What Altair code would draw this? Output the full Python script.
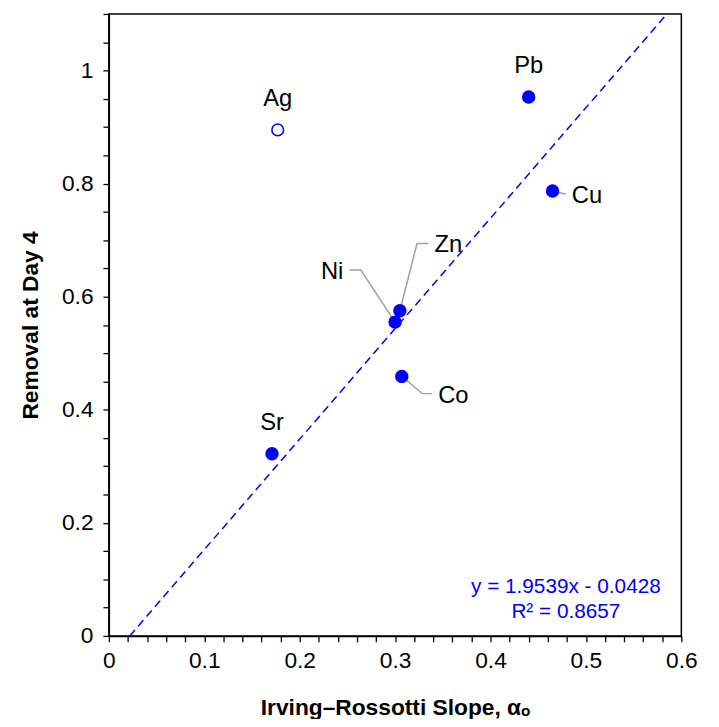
import altair as alt
import pandas as pd

# ---- data ----
names = ["Ag", "Pb", "Cu", "Zn", "Ni", "Co", "Sr"]
slope_alpha = [0.177, 0.440, 0.465, 0.305, 0.300, 0.307, 0.171]
removal_day4 = [0.895, 0.953, 0.787, 0.575, 0.555, 0.459, 0.322]
filled = [False, True, True, True, True, True, True]

# trendline (Excel-style linear fit shown on the chart)
fit_slope = 1.9539
fit_intercept = -0.0428
fit_r2 = 0.8657

# axis ranges / ticks
x_max = 0.6
y_max = 1.1
x_ticks = [round(i * 0.02, 2) for i in range(31)]
y_ticks = [round(i * 0.05, 2) for i in range(23)]

# label annotations: labels above their point
above_names = ["Ag", "Pb", "Sr"]
# labels with leader lines: (name, elbow x, elbow y, end x, end y, side)
leader_names = ["Cu", "Zn", "Ni", "Co"]
leader_elbow_x = [0.477, 0.323, 0.264, 0.3285]
leader_elbow_y = [0.782, 0.694, 0.647, 0.4285]
leader_end_x = [0.479, 0.335, 0.252, 0.339]
leader_end_y = [0.782, 0.694, 0.647, 0.4285]
leader_side = ["right", "right", "left", "right"]

# ---- build tables ----
pts = pd.DataFrame({"name": names, "x": slope_alpha, "y": removal_day4, "filled": filled})

lead_rows = []
for i, n in enumerate(leader_names):
    px = slope_alpha[names.index(n)]
    py = removal_day4[names.index(n)]
    lead_rows += [
        {"name": n, "o": 0, "x": px, "y": py},
        {"name": n, "o": 1, "x": leader_elbow_x[i], "y": leader_elbow_y[i]},
        {"name": n, "o": 2, "x": leader_end_x[i], "y": leader_end_y[i]},
    ]
leads = pd.DataFrame(lead_rows)

lab_right = pd.DataFrame({
    "name": [n for n, s in zip(leader_names, leader_side) if s == "right"],
    "x": [x for x, s in zip(leader_end_x, leader_side) if s == "right"],
    "y": [y for y, s in zip(leader_end_y, leader_side) if s == "right"],
})
lab_left = pd.DataFrame({
    "name": [n for n, s in zip(leader_names, leader_side) if s == "left"],
    "x": [x for x, s in zip(leader_end_x, leader_side) if s == "left"],
    "y": [y for y, s in zip(leader_end_y, leader_side) if s == "left"],
})
lab_above = pts[pts["name"].isin(above_names)]

x0 = -fit_intercept / fit_slope
x1 = (y_max - fit_intercept) / fit_slope
fit_line = pd.DataFrame({"x": [x0, x1], "y": [fit_slope * x0 + fit_intercept, fit_slope * x1 + fit_intercept]})

eq = pd.DataFrame({
    "x": [0.479, 0.479],
    "y": [0.087, 0.043],
    "t": [f"y = {fit_slope:.4f}x - {abs(fit_intercept):.4f}", f"R\u00b2 = {fit_r2:.4f}"],
})

FONT = "Liberation Sans"
BLUE = "#0000FF"

xs = alt.Scale(domain=[0, x_max], nice=False, zero=False)
ys = alt.Scale(domain=[0, y_max], nice=False, zero=False)

x_axis = alt.Axis(
    values=x_ticks,
    labelExpr="(round(datum.value*100) % 10 == 0) ? format(datum.value, '~g') : ''",
    title="Irving\u2013Rossotti Slope, \u03b1\u2092",
    grid=False,
    labelOverlap=False,
    labelFlush=False,
)
y_axis = alt.Axis(
    values=y_ticks,
    labelExpr="(round(datum.value*100) % 20 == 0) ? format(datum.value, '~g') : ''",
    title="Removal at Day 4",
    grid=False,
    labelOverlap=False,
    labelFlush=False,
)

X = alt.X("x:Q", scale=xs, axis=x_axis)
Y = alt.Y("y:Q", scale=ys, axis=y_axis)

line = alt.Chart(fit_line).mark_line(
    color=BLUE, strokeDash=[8, 5], strokeWidth=1.5, clip=True
).encode(x=X, y=Y)

leaders = alt.Chart(leads).mark_line(color="#A0A0A0", strokeWidth=1.5).encode(
    x=X, y=Y, detail="name:N", order="o:Q"
)

solid = alt.Chart(pts[pts["filled"]]).mark_point(
    filled=True, color=BLUE, size=185, opacity=1, shape="circle"
).encode(x=X, y=Y)

hollow = alt.Chart(pts[~pts["filled"]]).mark_point(
    filled=False, color=BLUE, size=140, strokeWidth=1.6, opacity=1, shape="circle"
).encode(x=X, y=Y)

t_above = alt.Chart(lab_above).mark_text(
    font=FONT, fontSize=24, color="black", dy=-31, align="center", baseline="middle"
).encode(x=X, y=Y, text="name:N")

t_right = alt.Chart(lab_right).mark_text(
    font=FONT, fontSize=24, color="black", dx=6, dy=2, align="left", baseline="middle"
).encode(x=X, y=Y, text="name:N")

t_left = alt.Chart(lab_left).mark_text(
    font=FONT, fontSize=24, color="black", dx=-6, dy=2, align="right", baseline="middle"
).encode(x=X, y=Y, text="name:N")

t_eq = alt.Chart(eq).mark_text(
    font=FONT, fontSize=21, color=BLUE, align="center", baseline="middle"
).encode(x=X, y=Y, text="t:N")

chart = alt.layer(line, leaders, solid, hollow, t_above, t_right, t_left, t_eq).properties(
    width=579,
    height=629,
    autosize=alt.AutoSizeParams(type="none"),
    padding={"left": 102, "top": 2, "right": 30, "bottom": 80},
).configure_view(
    stroke="black", strokeWidth=1.5
).configure_axis(
    domainColor="black", domainWidth=1.5, tickColor="black", tickWidth=1.3, tickSize=6,
    labelFont=FONT, labelFontSize=23, labelColor="black",
    titleFont=FONT, titleFontSize=23, titleFontWeight="bold", titleColor="black",
).configure_axisX(
    labelPadding=8, titlePadding=24
).configure_axisY(
    labelPadding=10, titlePadding=19
)

chart.save("out.html", embed_options={"renderer": "svg", "actions": False})
